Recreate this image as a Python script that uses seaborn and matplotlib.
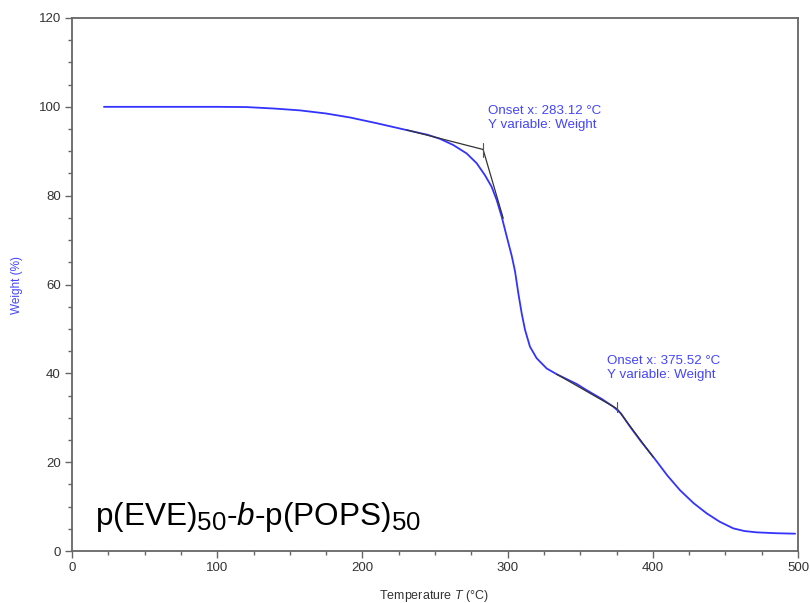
import numpy as np
import pandas as pd
import matplotlib
matplotlib.use("Agg")
import matplotlib.pyplot as plt
import seaborn as sns
from matplotlib.ticker import MultipleLocator
try:
    import matplotlib._mathtext as _mt
    _mt.SHRINK_FACTOR = 0.82
except Exception:
    pass

# ---- data ----
temperature = [22, 50, 80, 100, 120, 140, 157, 175, 191.5, 210, 230, 245, 253.4, 262.6,
               271.8, 278.7, 284.4, 289, 292.5, 295.9, 299.4, 302.8, 305.1, 307.4,
               309.7, 312, 315.4, 320, 326.9, 333.8, 347.6, 354.5, 365, 372.8, 378,
               384.3, 392, 400.3, 410, 418.7, 428, 437, 446, 455.4, 463, 471.5, 485, 498]
weight = [100.0, 100.0, 100.0, 100.0, 99.95, 99.6, 99.2, 98.5, 97.6, 96.3, 94.8, 93.7,
          92.8, 91.4, 89.5, 87.3, 84.6, 82.0, 79.0, 75.3, 70.8, 66.5, 63.0, 58.0,
          53.5, 49.8, 46.0, 43.4, 41.1, 39.8, 37.6, 36.2, 34.2, 32.5, 31.0,
          28.0, 24.6, 21.2, 17.0, 13.7, 10.8, 8.5, 6.6, 5.1, 4.5, 4.2, 4.0, 3.9]

onset_x = [283.12, 375.52]
tangent1_x = [230.5, 283.12, 297.0]
tangent1_y = [94.8, 90.4, 74.9]
tangent2_x = [333.8, 375.52, 400.3]
tangent2_y = [39.8, 32.0, 21.1]
onset_tick_y = [(88.8, 91.9), (31.4, 33.6)]
annot_pos = [(286.5, 100.5), (368.5, 44.2)]
sample_label = r"p(EVE)$_{50}$-$\it{b}$-p(POPS)$_{50}$"

# ---- styling ----
sns.set_style("ticks")
plt.rcParams['font.family'] = ['Liberation Sans', 'DejaVu Sans']
plt.rcParams['mathtext.fontset'] = 'custom'
plt.rcParams['mathtext.rm'] = 'Liberation Sans'
plt.rcParams['mathtext.it'] = 'Liberation Sans:italic'
plt.rcParams['mathtext.bf'] = 'Liberation Sans:bold'

curve_color = '#3333ff'
text_blue = '#4444ff'
gray = '#666666'

fig = plt.figure(figsize=(8.1, 6.03), dpi=100)
ax = fig.add_axes([72 / 810, 1 - 551 / 603, (798 - 72) / 810, (551 - 18) / 603])

df = pd.DataFrame({"Temperature": temperature, "Weight": weight})
sns.lineplot(data=df, x="Temperature", y="Weight", ax=ax, color=curve_color,
             linewidth=1.3, sort=False, estimator=None)

# tangent construction lines
ax.plot(tangent1_x, tangent1_y, color='#333333', linewidth=0.9)
ax.plot(tangent2_x, tangent2_y, color='#333333', linewidth=0.9)
for ox, (y0, y1) in zip(onset_x, onset_tick_y):
    ax.plot([ox, ox], [y0, y1], color='#555555', linewidth=0.8)

for ox, (tx, ty) in zip(onset_x, annot_pos):
    ax.text(tx, ty, f"Onset x: {ox:.2f} °C\nY variable: Weight", color=text_blue,
            fontsize=9.6, va='top', ha='left', linespacing=1.3)

ax.text(15.8, 5.8, sample_label, fontsize=22.7, color='black', ha='left', va='baseline')

ax.set_xlim(0, 500)
ax.set_ylim(0, 120)
ax.xaxis.set_major_locator(MultipleLocator(100))
ax.xaxis.set_minor_locator(MultipleLocator(25))
ax.yaxis.set_major_locator(MultipleLocator(20))
ax.yaxis.set_minor_locator(MultipleLocator(5))
ax.tick_params(which='major', direction='out', length=5, width=1.0, color=gray,
               labelsize=9.5, labelcolor='#333333', pad=3)
ax.tick_params(which='minor', direction='out', length=3, width=1.0, color=gray)
ax.tick_params(top=False, right=False, which='both')

for s in ax.spines.values():
    s.set_visible(True)
    s.set_color(gray)
    s.set_linewidth(1.3)

ax.set_xlabel(r"Temperature $\it{T}$ (°C)", fontsize=9, color='#333333')
ax.set_ylabel("Weight (%)", fontsize=8.5, color=text_blue)
ax.xaxis.set_label_coords((434 - 72) / 726, (551 - 588) / 533)
ax.yaxis.set_label_coords((23 - 72) / 726, (551 - 285) / 533)

fig.savefig("out.png", dpi=100)
